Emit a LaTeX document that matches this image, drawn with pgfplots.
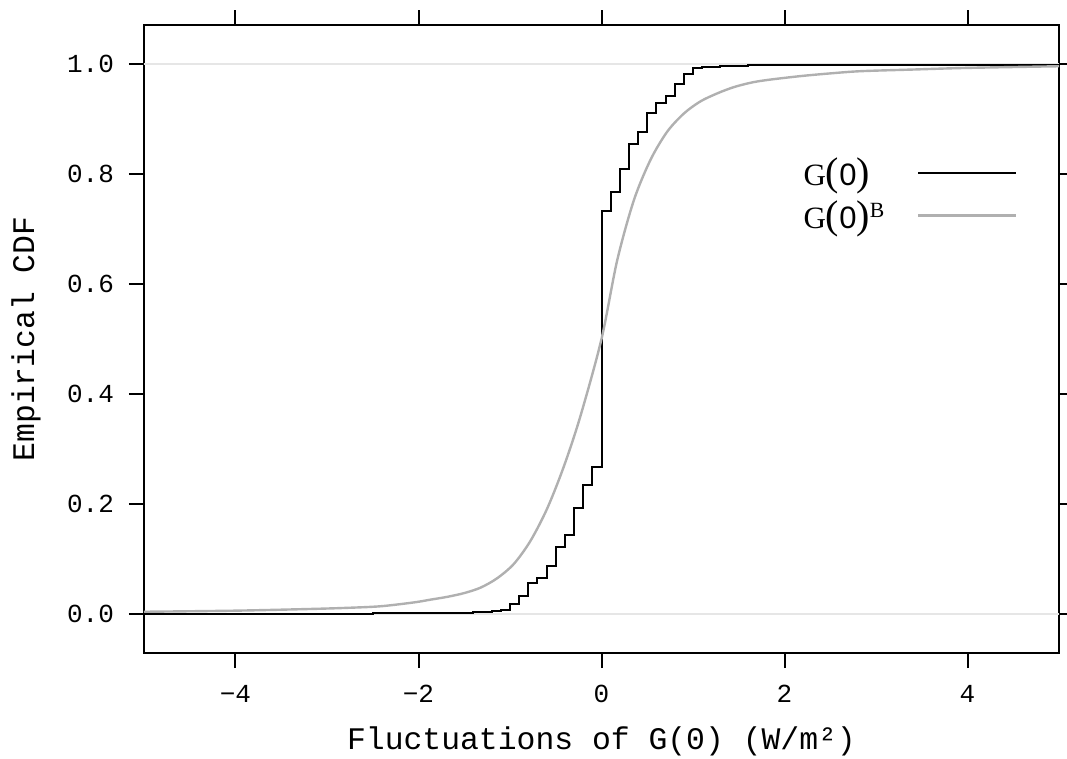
\documentclass[border=0pt]{standalone}
\usepackage{fontspec}
\setmainfont{Liberation Mono}
\newfontfamily\serf{Liberation Serif}
\newfontfamily\sanf{Liberation Sans}
\usepackage{pgfplots}
\pgfplotsset{compat=1.18}
\definecolor{refgray}{RGB}{230,230,230}
\definecolor{curvegray}{RGB}{176,176,176}
\newcommand{\gz}{{\serf G}{\serf\fontsize{20pt}{20pt}\selectfont(}{\sanf 0}{\serf\fontsize{20pt}{20pt}\selectfont)}}
\begin{document}
\begin{tikzpicture}
\begin{axis}[
    scale only axis,
    width=457.5pt, height=314pt,
    xmin=-5, xmax=5, ymin=-0.071, ymax=1.071,
    axis line style={line width=1pt},
    tick style={line width=1pt, black},
    tick align=outside, major tick length=7.5pt,
    tick pos=both,
    xtick={-4,-2,0,2,4}, xticklabels={−4,−2,0,2,4},
    ytick={0,0.2,0.4,0.6,0.8,1},
    yticklabels={0.0,0.2,0.4,0.6,0.8,1.0},
    ticklabel style={font=\fontsize{13pt}{15pt}\selectfont},
    xticklabel style={yshift=-5pt},
    yticklabel style={xshift=-4pt},
    label style={font=\fontsize{15.7pt}{18pt}\selectfont},
    xlabel={Fluctuations of G(0) (W/m²)},
    ylabel={Empirical CDF},
    xlabel style={at={(axis description cs:0.5,-0.140)}, anchor=center},
    ylabel style={at={(axis description cs:-0.129,0.5)}, anchor=center},
    legend plot pos=right,
    legend cell align=left,
    legend style={at={(rel axis cs:0.716,0.796)}, anchor=north west,
        draw=none, fill=none, inner sep=0pt, row sep=2pt,
        column sep=14pt, font=\fontsize{15.5pt}{17pt}\selectfont},
    legend image code/.code={\draw[#1] (0pt,0pt) -- (49pt,0pt);},
]
% reference lines at 0 and 1
\addplot[refgray, line width=1pt, forget plot] coordinates {(-5,0) (5,0)};
\addplot[refgray, line width=1pt, forget plot] coordinates {(-5,1) (5,1)};
% empirical CDF of the observed fluctuations
\addplot[black, line width=1pt, const plot] coordinates {
(-5,0.0005) (-2.5,0.001) (-1.8,0.0015) (-1.5,0.002) (-1.4,0.003) (-1.2,0.005)
(-1.1,0.008) (-1.0,0.018) (-0.9,0.033) (-0.8,0.056) (-0.7,0.066) (-0.6,0.087)
(-0.5,0.122) (-0.4,0.144) (-0.3,0.193) (-0.2,0.235) (-0.1,0.268) (0,0.733)
(0.1,0.768) (0.2,0.810) (0.3,0.854) (0.4,0.877) (0.5,0.911) (0.6,0.930)
(0.7,0.942) (0.8,0.963) (0.9,0.981) (1.0,0.992) (1.1,0.995) (1.3,0.997)
(1.6,0.998) (2.2,0.999) (5,0.999)};
\addlegendentry{\gz}
% bootstrap CDF
\addplot[curvegray, line width=1.2pt, smooth] coordinates {
(-5,0.004) (-4,0.006) (-3.2,0.009) (-2.8,0.011) (-2.415,0.014) (-2.05,0.021)
(-1.87,0.026) (-1.69,0.031) (-1.5,0.038) (-1.32,0.048) (-1.14,0.065)
(-0.958,0.091) (-0.776,0.133) (-0.593,0.192) (-0.412,0.268) (-0.23,0.360)
(0,0.5) (0.17,0.642) (0.353,0.752) (0.536,0.826) (0.718,0.877) (0.90,0.910)
(1.08,0.932) (1.27,0.947) (1.446,0.958) (1.63,0.966) (1.81,0.971)
(2.17,0.978) (2.5,0.983) (2.83,0.987) (3.4,0.990) (4,0.993) (5,0.996)};
\addlegendentry{\gz\textsuperscript{\serf B}}
\coordinate (bl) at (rel axis cs:0,0);
\coordinate (tr) at (rel axis cs:1,1);
\end{axis}
\pgfresetboundingbox
\path[use as bounding box] ([xshift=-72pt,yshift=-52.5pt]bl) rectangle ([xshift=4pt,yshift=12.5pt]tr);
\end{tikzpicture}
\end{document}
